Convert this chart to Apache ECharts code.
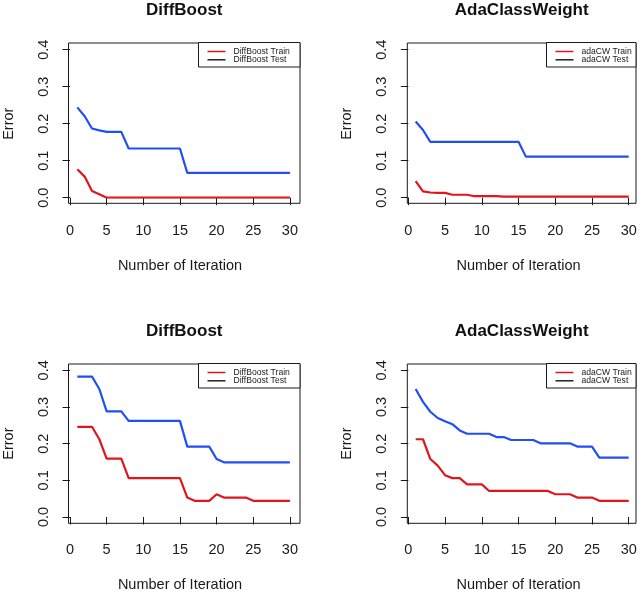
<!DOCTYPE html>
<html>
<head>
<meta charset="utf-8">
<script src="https://cdn.jsdelivr.net/npm/echarts@6/dist/echarts.min.js"></script>
<style>html,body{margin:0;padding:0;background:#fff}#c{width:640px;height:593px}</style>
</head>
<body>
<div id="c"></div>
<script>
// ---- data ----
const iterations = [1,2,3,4,5,6,7,8,9,10,11,12,13,14,15,16,17,18,19,20,21,22,23,24,25,26,27,28,29,30];
const xTicks = [0,5,10,15,20,25,30];
const yTicks = [0.0,0.1,0.2,0.3,0.4];

const titles = ['DiffBoost','AdaClassWeight','DiffBoost','AdaClassWeight'];
const trainNames = ['DiffBoost Train','adaCW Train','DiffBoost Train','adaCW Train'];
const testNames  = ['DiffBoost Test','adaCW Test','DiffBoost Test','adaCW Test'];

const diffTrainTop = [0.077,0.057,0.018,0.009,0,0,0,0,0,0,0,0,0,0,0,0,0,0,0,0,0,0,0,0,0,0,0,0,0,0];
const diffTestTop  = [0.244,0.220,0.187,0.182,0.178,0.178,0.178,0.133,0.133,0.133,0.133,0.133,0.133,0.133,0.133,0.067,0.067,0.067,0.067,0.067,0.067,0.067,0.067,0.067,0.067,0.067,0.067,0.067,0.067,0.067];
const adaTrainTop  = [0.045,0.017,0.014,0.013,0.013,0.008,0.008,0.008,0.004,0.004,0.004,0.004,0.003,0.003,0.003,0.003,0.003,0.003,0.003,0.003,0.003,0.003,0.003,0.003,0.003,0.003,0.003,0.003,0.003,0.003];
const adaTestTop   = [0.206,0.183,0.151,0.151,0.151,0.151,0.151,0.151,0.151,0.151,0.151,0.151,0.151,0.151,0.151,0.111,0.111,0.111,0.111,0.111,0.111,0.111,0.111,0.111,0.111,0.111,0.111,0.111,0.111,0.111];
const diffTrainBot = [0.246,0.246,0.246,0.212,0.159,0.159,0.159,0.106,0.106,0.106,0.106,0.106,0.106,0.106,0.106,0.053,0.044,0.044,0.044,0.062,0.053,0.053,0.053,0.053,0.044,0.044,0.044,0.044,0.044,0.044];
const diffTestBot  = [0.383,0.383,0.383,0.349,0.288,0.288,0.288,0.262,0.262,0.262,0.262,0.262,0.262,0.262,0.262,0.192,0.192,0.192,0.192,0.158,0.149,0.149,0.149,0.149,0.149,0.149,0.149,0.149,0.149,0.149];
const adaTrainBot  = [0.212,0.212,0.158,0.140,0.114,0.106,0.106,0.089,0.089,0.089,0.071,0.071,0.071,0.071,0.071,0.071,0.071,0.071,0.071,0.062,0.062,0.062,0.053,0.053,0.053,0.044,0.044,0.044,0.044,0.044];
const adaTestBot   = [0.349,0.314,0.287,0.270,0.261,0.253,0.236,0.227,0.227,0.227,0.227,0.218,0.218,0.210,0.210,0.210,0.210,0.201,0.201,0.201,0.201,0.201,0.192,0.192,0.192,0.162,0.162,0.162,0.162,0.162];

const trainData = [diffTrainTop, adaTrainTop, diffTrainBot, adaTrainBot];
const testData  = [diffTestTop, adaTestTop, diffTestBot, adaTestBot];

// ---- layout / style ----
const FONT = 'Liberation Sans, Arial, Helvetica, sans-serif';
const RED = '#e0161c', BLUE = '#1f4ff5', INK = '#1a1a1a';
const panels = [
  {boxL:68.5, boxR:300, boxT:43, boxB:203.3, y04:49.7, y00:197.7, legW:101.7},
  {boxL:407.3, boxR:636, boxT:43, boxB:203.3, y04:49.7, y00:197.7, legW:90.3},
  {boxL:68.5, boxR:300, boxT:364, boxB:523.3, y04:370.3, y00:518.3, legW:101.7},
  {boxL:407.3, boxR:636, boxT:364, boxB:523.3, y04:370.3, y00:518.3, legW:90.3}
];

const grid = [], xAxis = [], yAxis = [], series = [], title = [], elements = [];
const pair = (xs, ys) => xs.map((x, i) => [x, ys[i]]);

panels.forEach((p, k) => {
  const dataLeft = p.boxL + 1;
  const dataW = 220.4;
  // box grid
  grid.push({left:p.boxL, top:p.boxT, width:p.boxR - p.boxL, height:p.boxB - p.boxT,
    show:true, borderColor:INK, borderWidth:1, backgroundColor:'transparent'});
  const gBox = grid.length - 1;
  xAxis.push({gridIndex:gBox, type:'value', show:false, min:0, max:1});
  yAxis.push({gridIndex:gBox, type:'value', show:false, min:0, max:1});
  // data grid
  grid.push({left:dataLeft, top:p.y04, width:dataW, height:p.y00 - p.y04, show:false});
  const gData = grid.length - 1;
  xAxis.push({
    gridIndex:gData, type:'value', min:xTicks[0], max:xTicks[xTicks.length-1], interval:5,
    offset:p.boxB - p.y00,
    name:'Number of Iteration', nameLocation:'middle', nameGap:55,
    nameTextStyle:{fontFamily:FONT, fontSize:14.5, color:INK},
    axisLine:{show:false},
    axisTick:{show:true, length:7.5, lineStyle:{color:INK, width:1}},
    axisLabel:{margin:20, fontFamily:FONT, fontSize:14.5, color:INK},
    splitLine:{show:false}
  });
  yAxis.push({
    gridIndex:gData, type:'value', min:yTicks[0], max:yTicks[yTicks.length-1], interval:0.1,
    offset:dataLeft - p.boxL,
    name:'Error', nameLocation:'middle', nameGap:53,
    nameTextStyle:{fontFamily:FONT, fontSize:14.5, color:INK},
    axisLine:{show:false},
    axisTick:{show:true, length:7.5, lineStyle:{color:INK, width:1}},
    axisLabel:{margin:18, rotate:90, fontFamily:FONT, fontSize:14.5, color:INK,
      formatter:v => v.toFixed(1)},
    splitLine:{show:false}
  });
  const ax = xAxis.length - 1;
  series.push({type:'line', name:trainNames[k], xAxisIndex:ax, yAxisIndex:ax,
    data:pair(iterations, trainData[k]), showSymbol:false, symbol:'none',
    lineStyle:{color:RED, width:2.2}, itemStyle:{color:RED}, animation:false});
  series.push({type:'line', name:testNames[k], xAxisIndex:ax, yAxisIndex:ax,
    data:pair(iterations, testData[k]), showSymbol:false, symbol:'none',
    lineStyle:{color:BLUE, width:2.2}, itemStyle:{color:BLUE}, animation:false});
  // title
  title.push({text:titles[k], left:(p.boxL + p.boxR)/2, textAlign:'center',
    top:p.boxT - 41.5, padding:0,
    textStyle:{fontFamily:FONT, fontSize:17, fontWeight:'bold', color:'#111'}});
  // legend box (as graphic)
  const lx = Math.round(p.boxR - p.legW) + 0.5, ly = p.boxT - 0.5;
  elements.push(
    {type:'rect', z:100, shape:{x:lx, y:ly, width:p.boxR - lx, height:24.5},
      style:{fill:'#fff', stroke:INK, lineWidth:1}},
    {type:'line', z:101, shape:{x1:lx+9, y1:ly+9, x2:lx+27, y2:ly+9}, style:{stroke:RED, lineWidth:1.5}},
    {type:'line', z:101, shape:{x1:lx+9, y1:ly+17.3, x2:lx+27, y2:ly+17.3}, style:{stroke:'#222', lineWidth:1.5}},
    {type:'text', z:101, x:lx+35, y:ly+9, style:{text:trainNames[k], font:'8.6px ' + FONT, fill:INK, verticalAlign:'middle', align:'left'}},
    {type:'text', z:101, x:lx+35, y:ly+17.3, style:{text:testNames[k], font:'8.6px ' + FONT, fill:INK, verticalAlign:'middle', align:'left'}}
  );
});

const chart = echarts.init(document.getElementById('c'), null, {renderer:'canvas'});
chart.setOption({animation:false, backgroundColor:'#fff', title, grid, xAxis, yAxis, series,
  graphic:{elements}});
</script>
</body>
</html>
